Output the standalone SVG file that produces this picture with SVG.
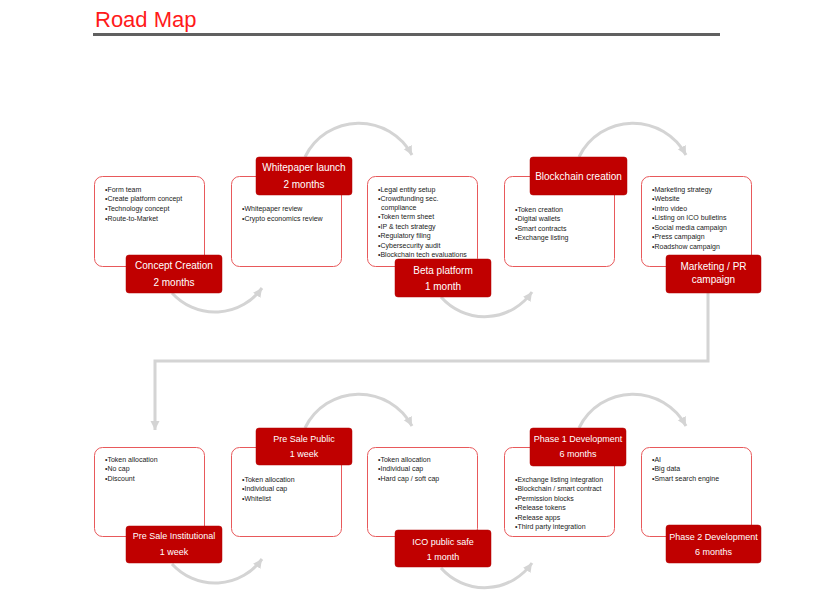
<svg xmlns="http://www.w3.org/2000/svg" width="815" height="599" viewBox="0 0 815 599">
<defs>
<marker id="ah" markerUnits="userSpaceOnUse" markerWidth="12" markerHeight="12" refX="9" refY="5" orient="auto">
<path d="M0,0.5 L9,5 L0,9.5 Z" fill="#d4d4d4"/>
</marker>
</defs>
<style>
.box{fill:#fff;stroke:#e8595b;stroke-width:1}
.lab{fill:#c00000;stroke:#b00000;stroke-width:0.5}
.lt{font-family:"Liberation Sans",Arial,sans-serif;font-size:10px;fill:#fff;text-anchor:middle}
.ls{font-family:"Liberation Sans",Arial,sans-serif;font-size:9px;fill:#fff;text-anchor:middle}
.bt{font-family:"Liberation Sans",Arial,sans-serif;font-size:7px;fill:#222}
.con{fill:none;stroke:#d4d4d4;stroke-width:3}
</style>
<rect width="815" height="599" fill="#fff"/>
<text x="95" y="27" font-family="Liberation Sans,Arial,sans-serif" font-size="22" fill="#ff1a1a">Road Map</text>
<rect x="93" y="33" width="627" height="3" fill="#606060"/>

<g id="connectors">
<path class="con" d="M172,293 A58,58 0 0 0 262,288" marker-end="url(#ah)"/>
<path class="con" d="M305,157 A60,60 0 0 1 412,155" marker-end="url(#ah)"/>
<path class="con" d="M441,297 A58,58 0 0 0 532,292" marker-end="url(#ah)"/>
<path class="con" d="M579,157 A60,60 0 0 1 686,155" marker-end="url(#ah)"/>
<path class="con" d="M708,293 L708,361 L155,361 L155,430" marker-end="url(#ah)"/>
<path class="con" d="M172,564 A58,58 0 0 0 262,559" marker-end="url(#ah)"/>
<path class="con" d="M305,428 A60,60 0 0 1 412,426" marker-end="url(#ah)"/>
<path class="con" d="M441,568 A58,58 0 0 0 532,563" marker-end="url(#ah)"/>
<path class="con" d="M579,428 A60,60 0 0 1 686,426" marker-end="url(#ah)"/>
</g>

<g id="concept-creation">
<rect class="box" x="94.5" y="176.5" width="110" height="90" rx="8"/>
<text class="bt" x="105" y="191.5">•Form team</text>
<text class="bt" x="105" y="201.2">•Create platform concept</text>
<text class="bt" x="105" y="210.9">•Technology concept</text>
<text class="bt" x="105" y="220.6">•Route-to-Market</text>
<rect class="lab" x="126" y="255" width="96" height="38" rx="3"/>
<text class="lt" x="174" y="268.8">Concept Creation</text>
<text class="lt" x="174" y="285.8">2 months</text>
</g>

<g id="whitepaper-launch">
<rect class="box" x="231.5" y="176.5" width="110" height="90" rx="8"/>
<text class="bt" x="242" y="211.2">•Whitepaper review</text>
<text class="bt" x="242" y="220.8">•Crypto economics review</text>
<rect class="lab" x="256" y="157" width="96" height="38" rx="3"/>
<text class="lt" x="304" y="171">Whitepaper launch</text>
<text class="lt" x="304" y="188">2 months</text>
</g>

<g id="beta-platform">
<rect class="box" x="367.5" y="176.5" width="110" height="90" rx="8"/>
<text class="bt" x="378" y="191.5">•Legal entity setup</text>
<text class="bt" x="378" y="201">•Crowdfunding sec.</text>
<text class="bt" x="381" y="209.5">compliance</text>
<text class="bt" x="378" y="219.3">•Token term sheet</text>
<text class="bt" x="378" y="228.7">•IP &amp; tech strategy</text>
<text class="bt" x="378" y="238.3">•Regulatory filing</text>
<text class="bt" x="378" y="247.7">•Cybersecurity audit</text>
<text class="bt" x="378" y="257">•Blockchain tech evaluations</text>
<rect class="lab" x="395" y="259" width="96" height="38" rx="3"/>
<text class="lt" x="443" y="273.5">Beta platform</text>
<text class="lt" x="443" y="290">1 month</text>
</g>

<g id="blockchain-creation">
<rect class="box" x="504.5" y="176.5" width="110" height="90" rx="8"/>
<text class="bt" x="515" y="211.5">•Token creation</text>
<text class="bt" x="515" y="221">•Digital wallets</text>
<text class="bt" x="515" y="230.5">•Smart contracts</text>
<text class="bt" x="515" y="240">•Exchange listing</text>
<rect class="lab" x="530" y="157" width="97" height="38" rx="3"/>
<text class="lt" x="578.5" y="179.5">Blockchain creation</text>
</g>

<g id="marketing-pr">
<rect class="box" x="641.5" y="176.5" width="110" height="90" rx="8"/>
<text class="bt" x="652" y="191.5">•Marketing strategy</text>
<text class="bt" x="652" y="201">•Website</text>
<text class="bt" x="652" y="210.6">•Intro video</text>
<text class="bt" x="652" y="220.2">•Listing on ICO bulletins</text>
<text class="bt" x="652" y="229.8">•Social media campaign</text>
<text class="bt" x="652" y="239.4">•Press campaign</text>
<text class="bt" x="652" y="249">•Roadshow campaign</text>
<rect class="lab" x="666" y="255" width="95" height="38" rx="3"/>
<text class="lt" x="713.5" y="270">Marketing / PR</text>
<text class="lt" x="713.5" y="283">campaign</text>
</g>

<g id="pre-sale-institutional">
<rect class="box" x="94.5" y="447.5" width="110" height="89" rx="8"/>
<text class="bt" x="105" y="461.5">•Token allocation</text>
<text class="bt" x="105" y="471.2">•No cap</text>
<text class="bt" x="105" y="480.9">•Discount</text>
<rect class="lab" x="126" y="526" width="96" height="37" rx="3"/>
<text class="ls" x="174" y="539.2">Pre Sale Institutional</text>
<text class="ls" x="174" y="554.5">1 week</text>
</g>

<g id="pre-sale-public">
<rect class="box" x="231.5" y="447.5" width="110" height="89" rx="8"/>
<text class="bt" x="242" y="481.5">•Token allocation</text>
<text class="bt" x="242" y="491">•Individual cap</text>
<text class="bt" x="242" y="500.6">•Whitelist</text>
<rect class="lab" x="256" y="428" width="96" height="37" rx="3"/>
<text class="ls" x="304" y="442">Pre Sale Public</text>
<text class="ls" x="304" y="457">1 week</text>
</g>

<g id="ico-public-safe">
<rect class="box" x="367.5" y="447.5" width="110" height="89" rx="8"/>
<text class="bt" x="378" y="461.5">•Token allocation</text>
<text class="bt" x="378" y="471.2">•Individual cap</text>
<text class="bt" x="378" y="480.9">•Hard cap / soft cap</text>
<rect class="lab" x="395" y="530" width="96" height="37" rx="3"/>
<text class="ls" x="443" y="545">ICO public safe</text>
<text class="ls" x="443" y="559.5">1 month</text>
</g>

<g id="phase-1-development">
<rect class="box" x="504.5" y="447.5" width="110" height="89" rx="8"/>
<text class="bt" x="515" y="481.5">•Exchange listing integration</text>
<text class="bt" x="515" y="491">•Blockchain / smart contract</text>
<text class="bt" x="515" y="500.6">•Permission blocks</text>
<text class="bt" x="515" y="510.1">•Release tokens</text>
<text class="bt" x="515" y="519.7">•Release apps</text>
<text class="bt" x="515" y="529.3">•Third party integration</text>
<rect class="lab" x="530" y="428" width="96" height="38" rx="3"/>
<text class="ls" x="578" y="442.2">Phase 1 Development</text>
<text class="ls" x="578" y="456.5">6 months</text>
</g>

<g id="phase-2-development">
<rect class="box" x="641.5" y="447.5" width="110" height="89" rx="8"/>
<text class="bt" x="652" y="461.5">•AI</text>
<text class="bt" x="652" y="471.2">•Big data</text>
<text class="bt" x="652" y="480.9">•Smart search engine</text>
<rect class="lab" x="666" y="525" width="95" height="38" rx="3"/>
<text class="ls" x="713.5" y="540">Phase 2 Development</text>
<text class="ls" x="713.5" y="555">6 months</text>
</g>
</svg>
